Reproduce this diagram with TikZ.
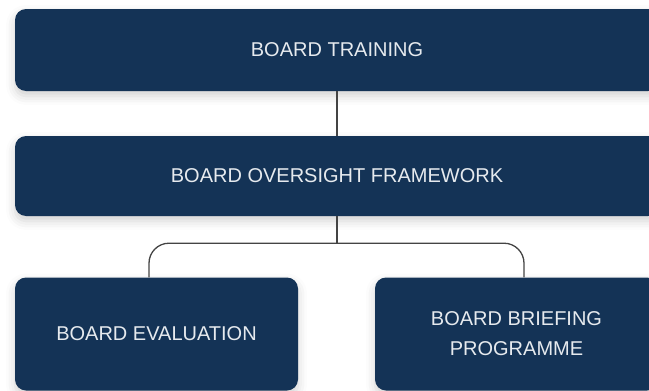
\documentclass[tikz,border=0pt]{standalone}
\usepackage{fontspec}
\setmainfont{Liberation Sans}
\usepackage{xcolor}
\usetikzlibrary{positioning, shadows.blur}

\definecolor{boardblue}{RGB}{20,51,86}
\definecolor{boardtext}{RGB}{230,234,238}
\definecolor{linkgray}{RGB}{68,68,68}

\begin{document}
\begin{tikzpicture}[x=1pt,y=1pt,node distance=126pt,
                    board node/.style={rectangle,rounded corners=11pt,fill=boardblue,
                      text=boardtext,font=\fontsize{20}{24}\selectfont,align=center,
                      blur shadow={shadow xshift=0pt,shadow yshift=-5pt,
                        shadow blur radius=9pt,shadow opacity=18}},
                    link/.style={draw=linkgray,line width=1.3pt}]

  \useasboundingbox (0,0) rectangle (649,-391);

  \node[board node,minimum width=644pt,minimum height=82pt] (1) at (337,-50) {BOARD TRAINING};
  \node[board node,minimum width=644pt,minimum height=80pt] (2) [below of=1] {BOARD OVERSIGHT FRAMEWORK};
  \node[board node,minimum width=283pt,minimum height=113pt] (3) at (156.5,-334) {BOARD EVALUATION};
  \node[board node,minimum width=283pt,minimum height=113pt] (4) at (516.5,-334) {BOARD BRIEFING\\[6pt]PROGRAMME};

  \path[link]
    (1) edge (2);
  \draw[link] (2.south) -- ++(0,-27) coordinate (split);
  \draw[link,rounded corners=20pt] ([xshift=-7.5pt]3.north) |- (split) -| ([xshift=7.5pt]4.north);
\end{tikzpicture}
\end{document}
